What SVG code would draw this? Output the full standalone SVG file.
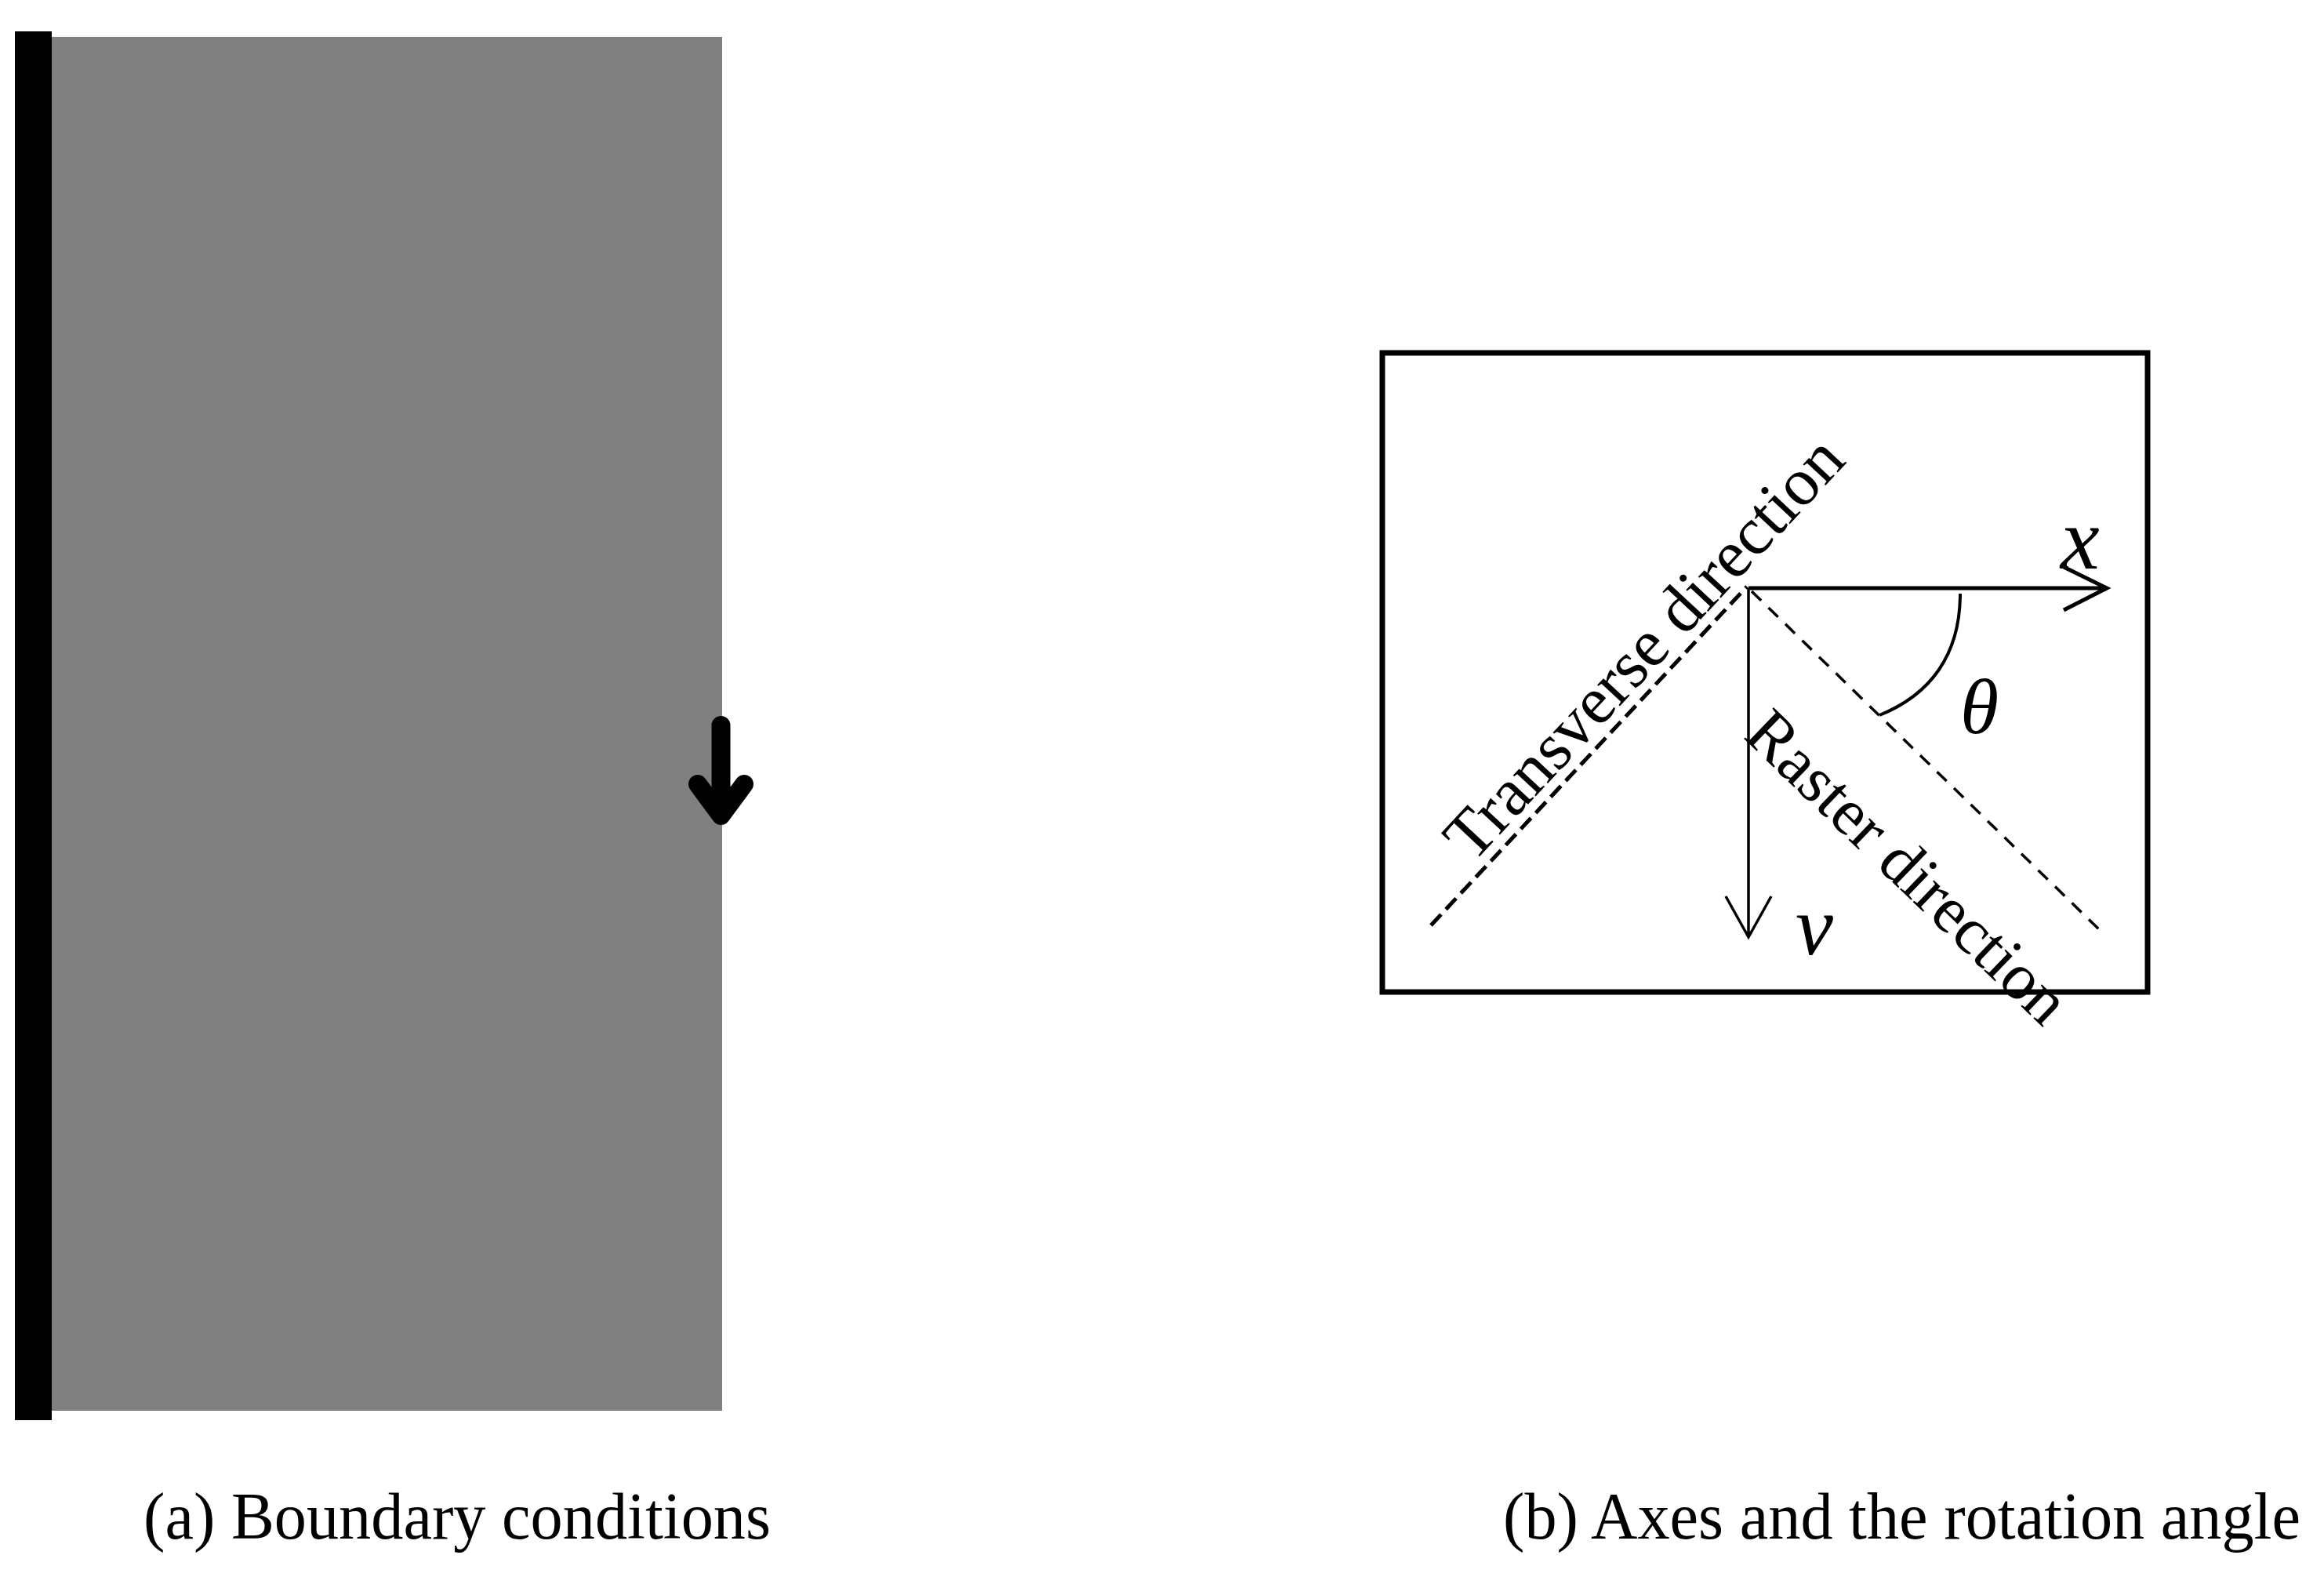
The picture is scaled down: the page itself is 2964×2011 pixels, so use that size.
<svg xmlns="http://www.w3.org/2000/svg" width="2964" height="2011" viewBox="0 0 2964 2011">
<style>
.serif{font-family:"Liberation Serif","Times New Roman",serif;fill:#000}
.ital{font-family:"Liberation Serif","Times New Roman",serif;font-style:italic;fill:#000}
.ln{stroke:#000;fill:none}
</style>
<rect width="2964" height="2011" fill="#fff"/>
<g id="panel-a">
  <g id="plate"><rect x="66" y="47" width="855" height="1752" fill="#808080"/></g>
  <g id="fixed-edge"><rect x="19" y="40" width="47" height="1771" fill="#000"/></g>
  <g id="load-arrow"><path d="M919.5 925 V1038 M890 1000 L919.5 1040 L949 1000" stroke="#000" stroke-width="24" stroke-linecap="round" stroke-linejoin="round" fill="none"/></g>
  <text id="caption-a" class="serif" x="183" y="1962" font-size="84" textLength="800" lengthAdjust="spacingAndGlyphs">(a) Boundary conditions</text>
</g>
<g id="panel-b">
  <g id="frame"><rect x="1763" y="450" width="976" height="815" class="ln" stroke-width="7"/></g>
  <g id="connectors">
    <path class="ln" stroke-width="5" d="M2230 750 H2686 M2632 723 L2687 750 L2632 778"/>
    <path class="ln" stroke-width="3.5" d="M2230 750 V1195 M2201 1143 L2230 1195 L2259 1143"/>
    <path class="ln" stroke-width="5" stroke-dasharray="19 9" d="M1825 1180 L2228 748"/>
    <path class="ln" stroke-width="3.5" stroke-dasharray="17 13" d="M2234 754 L2680 1188"/>
    <path class="ln" stroke-width="4" d="M2500 757 C2500 835 2462 886 2397 912"/>
  </g>
  <text id="transverse-label" class="serif" font-size="86" transform="translate(1878 1102) rotate(-47)">Transverse direction</text>
  <text id="raster-label" class="serif" font-size="84" transform="translate(2222 940) rotate(44)">Raster direction</text>
  <text id="x-label" class="ital" x="2628" y="725" font-size="112">x</text>
  <text id="y-label" class="ital" x="2290" y="1217" font-size="108">v</text>
  <text id="theta-label" class="ital" x="2500" y="935" font-size="100">θ</text>
  <text id="caption-b" class="serif" x="1917" y="1962" font-size="84" textLength="1017" lengthAdjust="spacingAndGlyphs">(b) Axes and the rotation angle</text>
</g>
</svg>
